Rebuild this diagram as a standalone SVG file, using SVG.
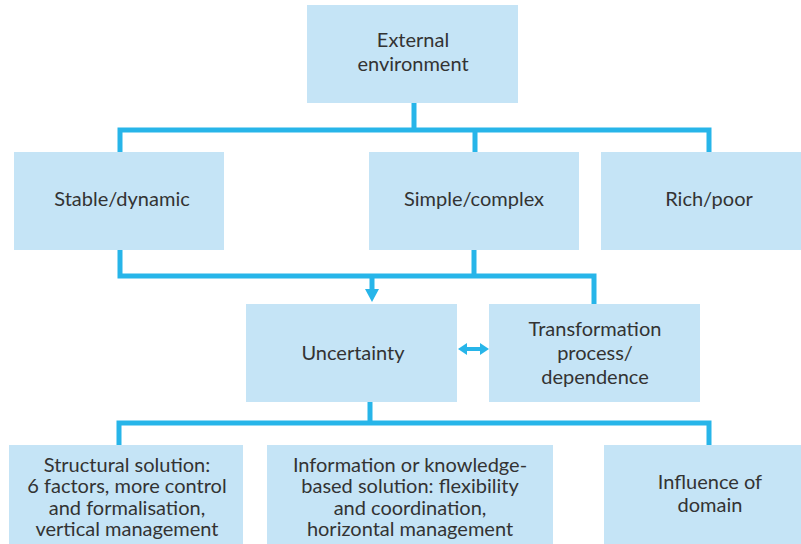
<svg xmlns="http://www.w3.org/2000/svg" width="801" height="544" viewBox="0 0 801 544">
  <defs>
    <style>
      .box { fill: #c5e4f6; }
      .lbl { font-family: Lato, "Open Sans", sans-serif; font-size: 20px; fill: #333; text-anchor: middle; }
      .wire { fill: none; stroke: #27b5e9; stroke-width: 5; }
      .head { fill: #27b5e9; }
    </style>
  </defs>
  <rect width="801" height="544" fill="#fff"/>

  <!-- connectors -->
  <g id="connectors">
    <!-- top fan-out -->
    <path class="wire" d="M414 103 V130 M120 152 V130 H709 V152 M475 130 V152"/>
    <!-- second tier merge into Uncertainty / Transformation -->
    <path class="wire" d="M120 250 V276 H594 V304 M474 250 V276 M372 276 V290"/>
    <polygon class="head" points="365,289 379,289 372,302"/>
    <!-- two-way link -->
    <path class="wire" style="stroke-width:4" d="M464 349 H483"/>
    <polygon class="head" points="458,349 467,343 467,355"/>
    <polygon class="head" points="489,349 480,343 480,355"/>
    <!-- bottom fan-out -->
    <path class="wire" d="M370 402 V423 M119 445 V423 H709 V445"/>
  </g>

  <g id="external">
    <rect class="box" x="307" y="5" width="211" height="98"/>
    <text class="lbl" x="413" y="47">External</text>
    <text class="lbl" x="413" y="71">environment</text>
  </g>
  <g id="stable">
    <rect class="box" x="14" y="152" width="210" height="98"/>
    <text class="lbl" x="122" y="206">Stable/dynamic</text>
  </g>
  <g id="simple">
    <rect class="box" x="369" y="152" width="210" height="98"/>
    <text class="lbl" x="474" y="206">Simple/complex</text>
  </g>
  <g id="rich">
    <rect class="box" x="601" y="152" width="200" height="98"/>
    <text class="lbl" x="709" y="206">Rich/poor</text>
  </g>
  <g id="uncertainty">
    <rect class="box" x="246" y="304" width="211" height="98"/>
    <text class="lbl" x="353" y="360">Uncertainty</text>
  </g>
  <g id="transformation">
    <rect class="box" x="489" y="304" width="211" height="98"/>
    <text class="lbl" x="595" y="336">Transformation</text>
    <text class="lbl" x="595" y="360">process/</text>
    <text class="lbl" x="595" y="384">dependence</text>
  </g>
  <g id="structural">
    <rect class="box" x="9" y="445" width="234" height="99"/>
    <text class="lbl" x="127" y="472">Structural solution:</text>
    <text class="lbl" x="127" y="493">6 factors, more control</text>
    <text class="lbl" x="127" y="515">and formalisation,</text>
    <text class="lbl" x="127" y="536">vertical management</text>
  </g>
  <g id="information">
    <rect class="box" x="267" y="445" width="286" height="99"/>
    <text class="lbl" x="410" y="472">Information or knowledge-</text>
    <text class="lbl" x="410" y="493">based solution: flexibility</text>
    <text class="lbl" x="410" y="515">and coordination,</text>
    <text class="lbl" x="410" y="536">horizontal management</text>
  </g>
  <g id="domain">
    <rect class="box" x="604" y="445" width="197" height="99"/>
    <text class="lbl" x="710" y="489">Influence of</text>
    <text class="lbl" x="710" y="512">domain</text>
  </g>
</svg>
